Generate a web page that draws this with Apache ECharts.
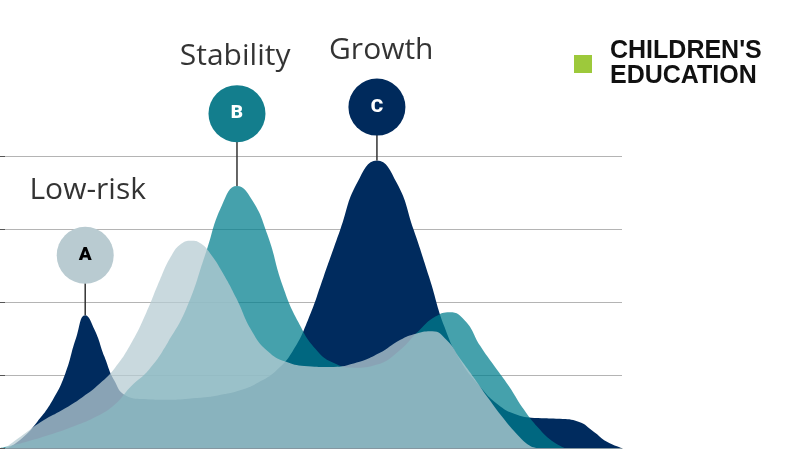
<!DOCTYPE html>
<html>
<head>
<meta charset="utf-8">
<script src="https://cdn.jsdelivr.net/npm/echarts@6/dist/echarts.min.js"></script>
<style>
  html, body { margin: 0; padding: 0; background: #fff; }
  #chart { width: 800px; height: 450px; }
</style>
</head>
<body>
<div id="chart"></div>
<script>
// horizon position (0-100) and height
const navyX = [1.3, 3.5, 6, 8.5, 10.5, 12.2, 13.7, 15.2, 16.8, 18.4, 20.2, 23, 27, 31, 35, 39, 42, 44.5, 47, 49.5, 52, 54.7, 57.4, 60.6, 63.8, 66.5, 69, 71.5, 74, 77, 80, 83, 86.5, 90, 93, 95.5, 97.5, 100]
const navyY = [0, 0.13, 0.36, 0.66, 1.02, 1.5, 1.82, 1.62, 1.25, 0.92, 0.72, 0.67, 0.66, 0.68, 0.72, 0.80, 0.92, 1.07, 1.32, 1.75, 2.34, 2.99, 3.63, 3.94, 3.63, 2.99, 2.34, 1.65, 1.2, 0.86, 0.60, 0.46, 0.41, 0.40, 0.36, 0.22, 0.09, 0]

const tealX = [0, 4, 8, 12, 15.5, 18.5, 21, 24, 27, 30, 33, 35.7, 38.1, 40.5, 43, 45.5, 48, 50.7, 53.5, 57, 60.5, 64, 67.5, 70, 72.3, 74.8, 77.2, 79.5, 81.8, 84.2, 86.5, 88.7, 90.8]
const tealY = [0, 0.08, 0.18, 0.30, 0.43, 0.60, 0.84, 1.08, 1.45, 1.92, 2.65, 3.33, 3.59, 3.40, 2.92, 2.21, 1.72, 1.36, 1.17, 1.10, 1.14, 1.32, 1.62, 1.80, 1.86, 1.74, 1.40, 1.12, 0.85, 0.53, 0.28, 0.10, 0]

const lightX = [0.8, 4, 7, 10, 13.3, 16, 18.5, 21, 23.5, 25.7, 27.6, 29.2, 30.7, 32.3, 34, 35.8, 38, 40.5, 43, 46, 49.5, 53, 57, 61, 64.3, 67, 69.5, 71.8, 74, 76.3, 78.6, 80.8, 83, 85.2, 86.3]
const lightY = [0, 0.2, 0.38, 0.52, 0.70, 0.88, 1.1, 1.42, 1.85, 2.3, 2.64, 2.80, 2.84, 2.80, 2.64, 2.40, 2.05, 1.60, 1.33, 1.18, 1.12, 1.11, 1.16, 1.30, 1.48, 1.57, 1.60, 1.48, 1.22, 0.95, 0.67, 0.42, 0.20, 0.03, 0]

// peak markers
const markerNames = ['A', 'B', 'C']
const markerX = [13.7, 38.1, 60.6]
const markerPeak = [1.82, 3.59, 3.94]
const markerLevel = [2.64, 4.58, 4.67]
const markerFill = ['#b9cbd1', '#137e8d', '#002a5c']
const markerInk = ['#000', '#fff', '#fff']

const titleNames = ['Low-risk', 'Stability', 'Growth']
const titleX = [14.1, 37.8, 61.3]
const titleY = [3.53, 5.36, 5.45]

const zip = (xs, ys) => xs.map((x, i) => [x, ys[i]])

const chart = echarts.init(document.getElementById('chart'))

function area (name, xs, ys, fill) {
  return {
    name: name,
    type: 'line',
    smooth: 0.5,
    showSymbol: false,
    silent: true,
    clip: false,
    lineStyle: { width: 0 },
    areaStyle: { color: fill, opacity: 1 },
    data: zip(xs, ys)
  }
}

const option = {
  animation: false,
  grid: { left: 0, right: 178, top: 156, bottom: 2 },
  xAxis: {
    type: 'value',
    min: 0,
    max: 100,
    axisLabel: { show: false },
    axisTick: { show: false },
    splitLine: { show: false },
    axisLine: { lineStyle: { color: '#8597a1', width: 1 } }
  },
  yAxis: {
    type: 'value',
    min: 0,
    max: 4,
    interval: 1,
    axisLabel: { show: false },
    axisLine: { show: false },
    axisTick: { show: true, inside: true, length: 5, lineStyle: { color: '#555' } },
    splitLine: { lineStyle: { color: '#b4b4b4', width: 1 } }
  },
  graphic: [
    { type: 'rect', left: 574, top: 55, shape: { width: 18, height: 18 }, style: { fill: '#9dc93b' } },
    {
      type: 'text',
      left: 610,
      top: 39,
      style: {
        text: "CHILDREN'S\nEDUCATION",
        font: 'bold 25px "Liberation Sans"',
        lineHeight: 25,
        fill: '#111'
      }
    }
  ],
  series: [
    area('Navy', navyX, navyY, '#002b5e'),
    area('Teal', tealX, tealY, 'rgba(0, 126, 141, 0.73)'),
    area('Light', lightX, lightY, 'rgba(183, 204, 211, 0.75)'),
    {
      // stems from each peak up to its marker
      type: 'custom',
      silent: true,
      clip: false,
      z: 3,
      renderItem: function (params, api) {
        const p0 = api.coord([api.value(0), api.value(1)])
        const p1 = api.coord([api.value(0), api.value(2)])
        return {
          type: 'line',
          shape: { x1: p0[0], y1: p0[1], x2: p1[0], y2: p1[1] },
          style: { stroke: '#333', lineWidth: 1.5 }
        }
      },
      data: markerNames.map((n, i) => [markerX[i], markerPeak[i], markerLevel[i]])
    },
    {
      type: 'scatter',
      clip: false,
      silent: true,
      symbol: 'circle',
      symbolSize: 57,
      z: 4,
      itemStyle: { opacity: 1 },
      label: {
        show: true,
        position: 'inside',
        formatter: '{b}',
        fontFamily: 'Roboto',
        fontWeight: 900,
        fontSize: 19
      },
      data: markerNames.map((n, i) => ({
        name: n,
        value: [markerX[i], markerLevel[i]],
        itemStyle: { color: markerFill[i], opacity: 1 },
        label: { color: markerInk[i] }
      }))
    },
    {
      type: 'scatter',
      clip: false,
      silent: true,
      symbolSize: 0,
      label: {
        show: true,
        position: 'inside',
        formatter: '{b}',
        fontFamily: 'Open Sans',
        fontSize: 30,
        color: '#000'
      },
      data: titleNames.map((n, i) => ({ name: n, value: [titleX[i], titleY[i]] }))
    }
  ]
}

chart.setOption(option)
</script>
</body>
</html>
